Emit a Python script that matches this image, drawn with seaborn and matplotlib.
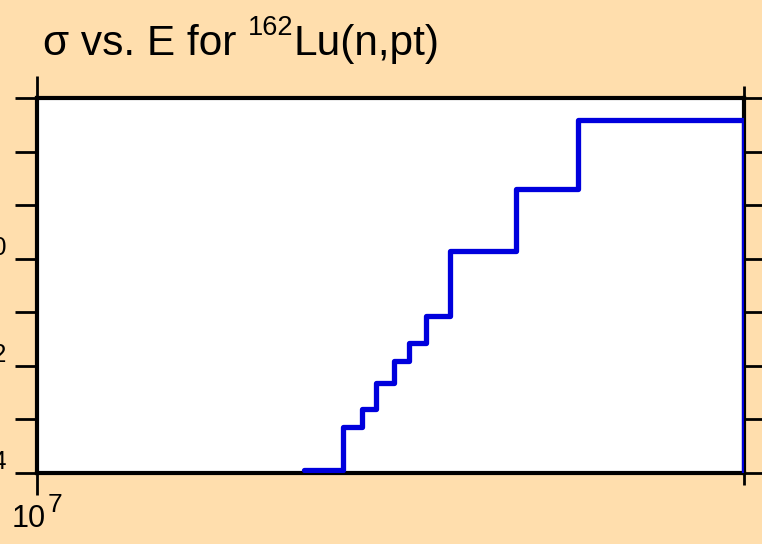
"""Step plot of the 162Lu(n,pt) cross section versus incident energy."""

import matplotlib

matplotlib.use("Agg")

import matplotlib.pyplot as plt
import pandas as pd
import seaborn as sns
from matplotlib.ticker import FixedLocator, NullFormatter, NullLocator
from matplotlib.transforms import offset_copy


# incident neutron energy (eV) where each step starts
ENERGY_EV = [1.30e7, 1.35e7, 1.375e7, 1.395e7, 1.42e7, 1.44e7, 1.465e7, 1.50e7, 1.60e7, 1.70e7, 2.00e7]
# cross section on each step; last value just drops the line off the axis
CROSS_SECTION = [1.12e-14, 7.06e-14, 1.57e-13, 4.69e-13, 1.22e-12, 2.69e-12, 8.51e-12,
                 1.41e-10, 2.04e-9, 3.93e-8, 1e-20]

X_LIMITS = (1e7, 2e7)
Y_LIMITS = (1e-14, 1e-7)
X_TICKS = [1e7]
X_MINOR_TICKS = [2e7]
X_TICK_EXPONENTS = ["7"]
Y_TICKS = [1e-14, 1e-13, 1e-12, 1e-11, 1e-10, 1e-9, 1e-8, 1e-7]
Y_LABELED_TICKS = [1e-14, 1e-12, 1e-10]
Y_TICK_EXPONENTS = ["−14", "−12", "−10"]

TITLE_MAIN = "σ vs. E for "
TITLE_SUP = "162"
TITLE_TAIL = "Lu(n,pt)"

BACKGROUND = "#ffdead"
LINE_COLOR = "#0000dd"


def shifted(ax, transform, dx, dy):
    """Offset a transform by a number of pixels."""
    return offset_copy(transform, ax.figure, x=dx, y=dy, units="dots")


def x_power_labels(ax) -> None:
    """Write 10^n under each major x tick, exponent at its own size."""
    base = ax.get_xaxis_transform()
    for tick, exponent in zip(X_TICKS, X_TICK_EXPONENTS):
        ax.text(tick, 0, "10", fontsize=22, color="black", ha="right", va="baseline",
                transform=shifted(ax, base, 9, -54), clip_on=False)
        ax.text(tick, 0, exponent, fontsize=19, color="black", ha="left", va="baseline",
                transform=shifted(ax, base, 11, -39), clip_on=False)


def y_power_labels(ax, renderer) -> None:
    """Write 10^n left of the labelled y ticks, right-aligned on the exponent."""
    base = ax.get_yaxis_transform()
    for tick, exponent in zip(Y_LABELED_TICKS, Y_TICK_EXPONENTS):
        sup = ax.text(0, tick, exponent, fontsize=18, color="black", ha="right",
                      va="baseline", transform=shifted(ax, base, -29.5, 4), clip_on=False)
        width = sup.get_window_extent(renderer).width
        ax.text(0, tick, "10", fontsize=22, color="black", ha="right", va="baseline",
                transform=shifted(ax, base, -30.5 - width, -6), clip_on=False)


def main() -> None:
    sns.set_theme(style="ticks")
    plt.rcParams["font.family"] = ["Liberation Sans", "DejaVu Sans"]

    data = pd.DataFrame({"energy": ENERGY_EV, "xs": CROSS_SECTION})

    fig = plt.figure(figsize=(7.62, 5.44), dpi=100, facecolor=BACKGROUND)
    ax = fig.add_axes([37 / 762, 71.3 / 544, 706.5 / 762, 374.4 / 544])
    ax.set_facecolor("white")

    sns.lineplot(
        data=data,
        x="energy",
        y="xs",
        drawstyle="steps-post",
        color=LINE_COLOR,
        linewidth=3.8,
        ax=ax,
        zorder=3,
    )

    ax.set_xscale("log")
    ax.set_yscale("log")
    ax.set_xlim(*X_LIMITS)
    ax.set_ylim(*Y_LIMITS)

    ax.xaxis.set_major_locator(FixedLocator(X_TICKS))
    ax.xaxis.set_minor_locator(FixedLocator(X_MINOR_TICKS))
    ax.xaxis.set_major_formatter(NullFormatter())
    ax.xaxis.set_minor_formatter(NullFormatter())
    ax.yaxis.set_major_locator(FixedLocator(Y_TICKS))
    ax.yaxis.set_major_formatter(NullFormatter())
    ax.yaxis.set_minor_locator(NullLocator())

    ax.set_xlabel("")
    ax.set_ylabel("")

    for spine in ax.spines.values():
        spine.set_visible(True)
        spine.set_linewidth(3)
        spine.set_color("black")
        spine.set_zorder(2)

    ax.tick_params(which="major", direction="out", length=15.5, width=2, color="black",
                   top=True, right=True)
    ax.tick_params(which="minor", direction="out", length=8.5, width=2, color="black",
                   top=True, right=True)

    renderer = fig.canvas.get_renderer()
    x_power_labels(ax)
    y_power_labels(ax, renderer)

    # title pieced together so the superscript can be sized on its own
    main_text = fig.text(43 / 762, 1 - 55 / 544, TITLE_MAIN, fontsize=30.5, color="black",
                         va="baseline")
    box = main_text.get_window_extent(renderer)
    sup_text = fig.text(box.x1 / 762, 1 - 35 / 544, TITLE_SUP, fontsize=19.5, color="black",
                        va="baseline")
    box = sup_text.get_window_extent(renderer)
    fig.text(box.x1 / 762, 1 - 55 / 544, TITLE_TAIL, fontsize=30.5, color="black",
             va="baseline")

    fig.savefig("out.png", dpi=100, facecolor=BACKGROUND)
    plt.close(fig)


if __name__ == "__main__":
    main()
